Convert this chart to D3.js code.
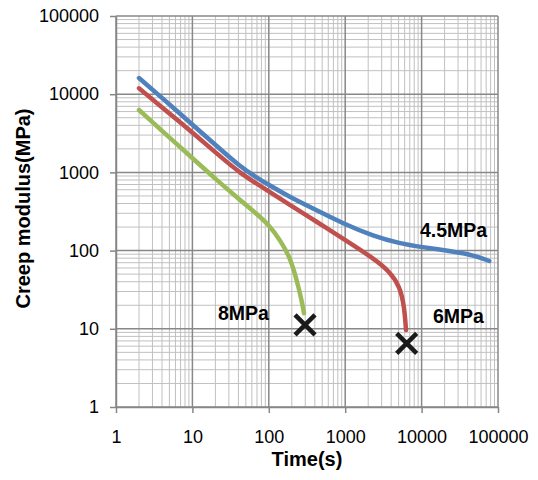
<!DOCTYPE html>
<html>
<head>
<meta charset="utf-8">
<script src="https://cdn.jsdelivr.net/npm/d3@7"></script>
<style>
  html, body { margin: 0; padding: 0; background: #fff; }
  svg { display: block; }
  text { font-family: "Liberation Sans", Arial, sans-serif; fill: #000; }
</style>
</head>
<body>
<svg id="chart" width="538" height="480"></svg>
<script>
// Creep modulus vs. time at three stress levels (log-log)
const timeTicks = [1, 10, 100, 1000, 10000, 100000];
const modulusTicks = [1, 10, 100, 1000, 10000, 100000];

const time45 = [2, 4.16, 10.3, 20.8, 42, 65.9, 102, 189, 346, 993, 2330, 5210, 10000, 23600, 47500, 76900];
const mod45  = [16100, 8710, 3980, 2170, 1190, 887, 684, 484, 361, 216, 154, 123, 111, 98.9, 87.9, 73.6];

const time6 = [2, 4.16, 10.3, 20.8, 42, 102, 189, 346, 517, 993, 2330, 3855, 5210, 5940, 6250];
const mod6  = [11900, 6600, 3160, 1750, 973, 566, 383, 265, 206, 137, 80, 53.7, 34.5, 19.2, 9.65];

const time8 = [2, 4.16, 10.3, 20.8, 42, 69.5, 102, 140, 189, 232, 269, 289];
const mod8  = [6280, 3290, 1480, 800, 444, 294, 209, 137, 82.8, 42.1, 23.3, 15.8];

// rupture points
const ruptureTime = [298, 6380];
const ruptureMod  = [11.2, 6.5];

const seriesNames = ["4.5MPa", "6MPa", "8MPa"];

const series = [
  { name: seriesNames[0], t: time45, v: mod45, color: "#4f81bd" },
  { name: seriesNames[1], t: time6,  v: mod6,  color: "#c0504d" },
  { name: seriesNames[2], t: time8,  v: mod8,  color: "#9bbb59" }
];

// label anchors (left edge / baseline) in data units
const labelAnchors = [
  { text: seriesNames[0], t: 9530,  v: 149 },
  { text: seriesNames[1], t: 14100, v: 11.9 },
  { text: seriesNames[2], t: 21.6,  v: 13.0 }
];

const svg = d3.select("#chart");
const plot = { left: 116, right: 498, top: 16, bottom: 407 };

const x = d3.scaleLog().domain([1, 100000]).range([plot.left, plot.right]);
const y = d3.scaleLog().domain([1, 100000]).range([plot.bottom, plot.top]);

// minor values 2..9 within each decade
const minors = [];
for (let d = 1; d < 100000; d *= 10) {
  for (let k = 2; k <= 9; k++) minors.push(d * k);
}

const grid = svg.append("g");
grid.append("g").selectAll("line").data(minors).join("line")
  .attr("x1", d => x(d)).attr("x2", d => x(d))
  .attr("y1", plot.top).attr("y2", plot.bottom)
  .attr("stroke", "#c0c0c0").attr("stroke-width", 1);
grid.append("g").selectAll("line").data(minors).join("line")
  .attr("x1", plot.left).attr("x2", plot.right)
  .attr("y1", d => y(d)).attr("y2", d => y(d))
  .attr("stroke", "#c0c0c0").attr("stroke-width", 1);
grid.append("g").selectAll("line").data(timeTicks).join("line")
  .attr("x1", d => x(d)).attr("x2", d => x(d))
  .attr("y1", plot.top).attr("y2", plot.bottom)
  .attr("stroke", "#888888").attr("stroke-width", 1.5);
grid.append("g").selectAll("line").data(modulusTicks).join("line")
  .attr("x1", plot.left).attr("x2", plot.right)
  .attr("y1", d => y(d)).attr("y2", d => y(d))
  .attr("stroke", "#888888").attr("stroke-width", 1.5);

// axes
const xAxis = d3.axisBottom(x).tickValues(timeTicks).tickFormat(d3.format("d"))
  .tickSize(6).tickSizeOuter(0).tickPadding(17);
const yAxis = d3.axisLeft(y).tickValues(modulusTicks).tickFormat(d3.format("d"))
  .tickSize(6).tickSizeOuter(0).tickPadding(11);

const gx = svg.append("g").attr("transform", `translate(0,${plot.bottom})`).call(xAxis);
const gy = svg.append("g").attr("transform", `translate(${plot.left},0)`).call(yAxis);
[gx, gy].forEach(g => {
  g.select(".domain").attr("stroke", "#868686").attr("stroke-width", 1.5);
  g.selectAll(".tick line").attr("stroke", "#868686").attr("stroke-width", 1.5);
  g.selectAll(".tick text").attr("font-size", 18)
    .attr("font-family", "'Liberation Sans', Arial, sans-serif").attr("fill", "#000");
});

// series lines (smoothed)
const line = d3.line()
  .x(d => x(d[0])).y(d => y(d[1]))
  .curve(d3.curveBasis);

svg.append("g").selectAll("path").data(series).join("path")
  .attr("d", s => line(s.t.map((t, i) => [t, s.v[i]])))
  .attr("fill", "none")
  .attr("stroke", s => s.color)
  .attr("stroke-width", 4.5)
  .attr("stroke-linecap", "round")
  .attr("stroke-linejoin", "round");

// rupture markers
const r = 10;
const marks = svg.append("g").selectAll("g").data(ruptureTime.map((t, i) => [t, ruptureMod[i]]))
  .join("g").attr("transform", d => `translate(${x(d[0])},${y(d[1])})`);
marks.append("path")
  .attr("d", `M${-r},${-r}L${r},${r}M${-r},${r}L${r},${-r}`)
  .attr("stroke", "#1a1a1a").attr("stroke-width", 4.5).attr("fill", "none");

// series labels
svg.append("g").selectAll("text").data(labelAnchors).join("text")
  .attr("x", d => x(d.t)).attr("y", d => y(d.v))
  .attr("font-size", 19.5).attr("font-weight", "bold")
  .text(d => d.text);

// axis titles
svg.append("text")
  .attr("x", (plot.left + plot.right) / 2).attr("y", 466)
  .attr("text-anchor", "middle")
  .attr("font-size", 20).attr("font-weight", "bold")
  .text("Time(s)");

svg.append("text")
  .attr("transform", `translate(30,${(plot.top + plot.bottom) / 2 - 3}) rotate(-90)`)
  .attr("text-anchor", "middle")
  .attr("font-size", 20).attr("font-weight", "bold")
  .text("Creep modulus(MPa)");
</script>
</body>
</html>
